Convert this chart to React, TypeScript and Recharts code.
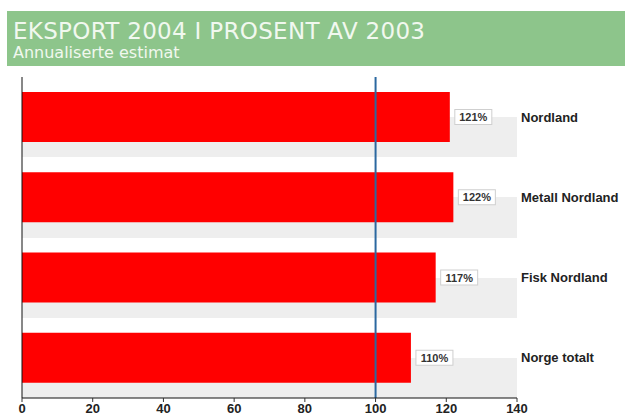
import {
  Bar,
  BarChart,
  CartesianGrid,
  LabelList,
  ReferenceLine,
  XAxis,
  YAxis,
} from "recharts";

const categories = ["Nordland", "Metall Nordland", "Fisk Nordland", "Norge totalt"];
const values = [121, 122, 117, 110];
const xTicks = [0, 20, 40, 60, 80, 100, 120, 140];
const baseline = 100;

const data = categories.map((name, i) => ({ name, value: values[i] }));

const font = "Liberation Sans, Arial, sans-serif";

// white upper half, grey lower half of every category band
function halfBands({ offset }: any) {
  const band = offset.height / categories.length;
  const pts: number[] = [];
  for (let k = 0; k < categories.length * 2; k++) pts.push(offset.top + (k * band) / 2);
  return pts;
}

function ValueBox(props: any) {
  const { x, y, width, height, value } = props;
  const bx = x + width + 5;
  const cy = y + height / 2;
  return (
    <g>
      <rect x={bx} y={cy - 7.5} width={37} height={15} fill="#ffffff" stroke="#cfcfcf" />
      <text
        x={bx + 18.5}
        y={cy + 4}
        textAnchor="middle"
        fontSize={11}
        fontWeight="bold"
        fill="#333"
        fontFamily={font}
      >
        {`${value}%`}
      </text>
    </g>
  );
}

export default function App() {
  return (
    <div
      style={{
        position: "absolute",
        left: 0,
        top: 0,
        width: 625,
        height: 413,
        overflow: "hidden",
        background: "#fff",
      }}
    >
      <div
        style={{
          position: "absolute",
          left: 7,
          top: 11,
          width: 618,
          height: 55,
          background: "#8dc58b",
          color: "#f1f8ef",
          fontFamily: "DejaVu Sans, Verdana, sans-serif",
        }}
      >
        <div
          style={{
            position: "absolute",
            left: 6,
            top: 8,
            fontSize: 23,
            lineHeight: "24px",
            letterSpacing: 0.3,
          }}
        >
          EKSPORT 2004 I PROSENT AV 2003
        </div>
        <div style={{ position: "absolute", left: 6, top: 33, fontSize: 16, lineHeight: "17px" }}>
          Annualiserte estimat
        </div>
      </div>
      <div style={{ position: "absolute", left: 0, top: 0 }}>
        <BarChart
          width={625}
          height={430}
          data={data}
          layout="vertical"
          margin={{ top: 77, right: 0, left: 22, bottom: 0 }}
        >
          <CartesianGrid
            vertical={false}
            stroke="none"
            horizontalCoordinatesGenerator={halfBands}
            horizontalFill={["#ffffff", "#eeeeee"]}
            fillOpacity={1}
          />
          <XAxis
            type="number"
            domain={[0, 140]}
            ticks={xTicks}
            height={32}
            axisLine={{ stroke: "#111" }}
            tickLine={{ stroke: "#333" }}
            tickSize={4}
            tick={{ fontSize: 13, fontWeight: "bold", fill: "#222", fontFamily: font }}
          />
          <YAxis
            type="category"
            dataKey="name"
            orientation="right"
            width={108}
            axisLine={false}
            tickLine={false}
            tickSize={2}
            tick={{ fontSize: 13, fontWeight: "bold", fill: "#222", fontFamily: font }}
          />
          <ReferenceLine x={0} stroke="#111" strokeWidth={1} />
          <Bar dataKey="value" fill="#ff0000" barSize={50} isAnimationActive={false}>
            <LabelList dataKey="value" content={ValueBox} />
          </Bar>
          <ReferenceLine x={baseline} stroke="#2b68a0" strokeWidth={2} />
        </BarChart>
      </div>
    </div>
  );
}
